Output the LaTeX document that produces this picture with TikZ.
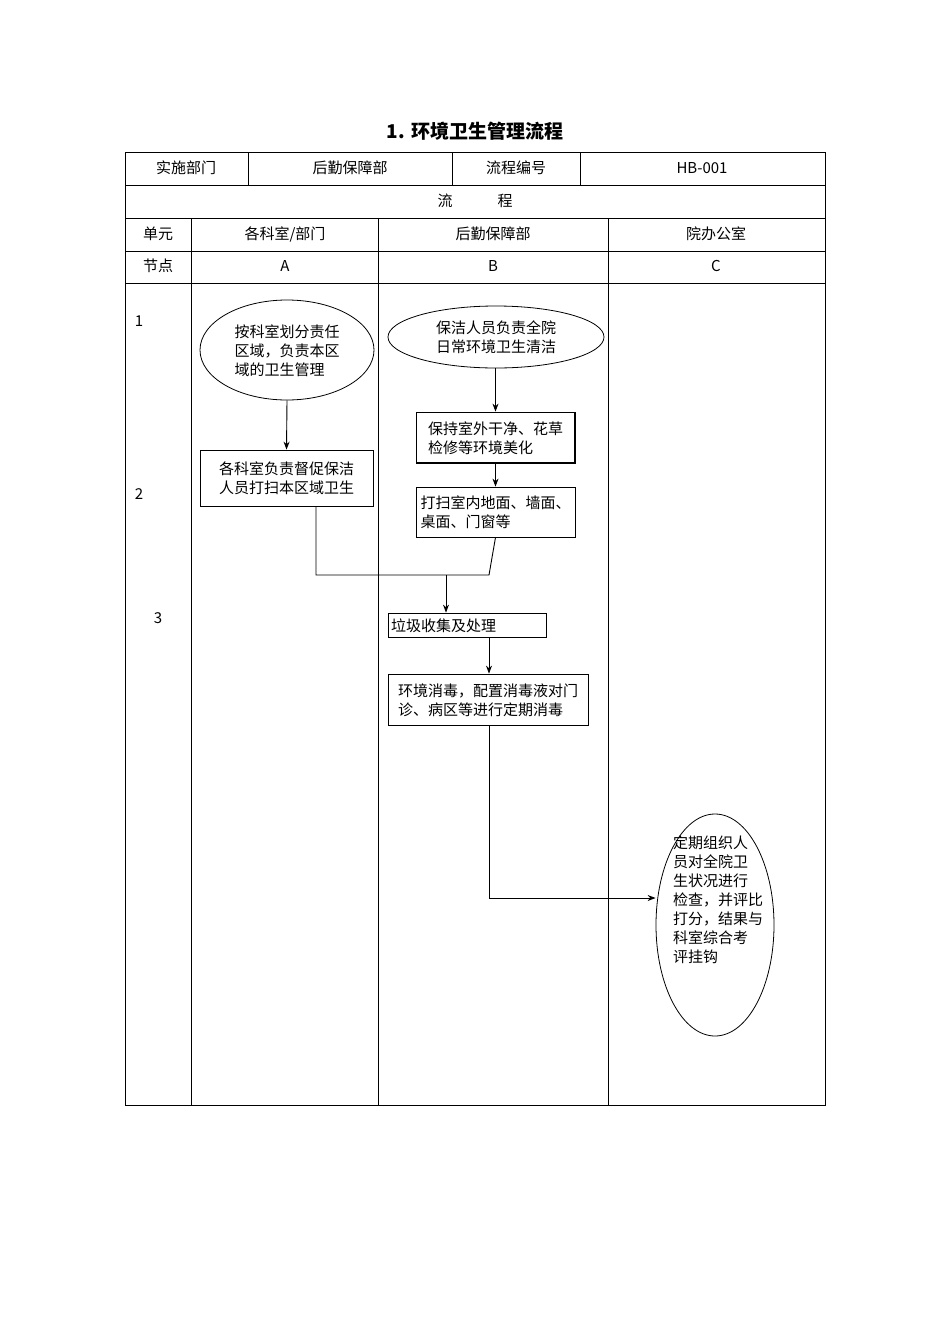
\documentclass[tikz,border=0pt]{standalone}
\usepackage{fontspec}
\setmainfont{Liberation Serif}
\newfontfamily\cjk{Noto Sans CJK SC}
\usetikzlibrary{shapes.geometric,arrows.meta}
\begin{document}
\begin{tikzpicture}[x=1pt,y=-1pt,
  tl/.style={line width=0.8pt},
  txt/.style={font=\cjk\fontsize{15}{19}\selectfont,inner sep=0pt},
  el/.style={draw,line width=0.8pt,ellipse,inner sep=0pt},
  bx/.style={draw,line width=0.8pt,inner sep=0pt},
  ar/.style={line width=0.9pt,-{Stealth[length=8pt,width=6pt]}},
  ln/.style={line width=0.9pt}]
\useasboundingbox (0,0) rectangle (950,1344);
\node[font=\cjk\bfseries\fontsize{19}{22}\selectfont] (title) at (475,131) {\textbf{1.} 环境卫生管理流程};
% table
\draw[tl] (125,152) rectangle (825,1105);
\foreach \y in {185,218,251,283} \draw[tl] (125,\y) -- (825,\y);
\foreach \x in {248,452,580} \draw[tl] (\x,152) -- (\x,185);
\foreach \x in {191,378,608} \draw[tl] (\x,218) -- (\x,1105);
\node[txt] (h1) at (186,168) {实施部门};
\node[txt] (h2) at (350,168) {后勤保障部};
\node[txt] (h3) at (516,168) {流程编号};
\node[txt] (h4) at (702,168) {HB-001};
\node[txt] (lc) at (475,201) {流\hspace{3em}程};
\node[txt] (u0) at (158,234) {单元};
\node[txt] (u1) at (285,234) {各科室/部门};
\node[txt] (u2) at (493,234) {后勤保障部};
\node[txt] (u3) at (716,234) {院办公室};
\node[txt] (n0) at (158,266) {节点};
\node[txt] (n1) at (285,266) {A};
\node[txt] (n2) at (493,266) {B};
\node[txt] (n3) at (716,266) {C};
\node[txt] (s1) at (139,321) {1};
\node[txt] (s2) at (139,494) {2};
\node[txt] (s3) at (158,618) {3};
% nodes
\node[el,minimum width=174,minimum height=100] (ea) at (287,350) {};
\node[txt,align=left] at (287,351) {按科室划分责任\\区域，负责本区\\域的卫生管理};
\node[el,minimum width=216,minimum height=62] (eb) at (496,337) {};
\node[txt,align=left] at (496,337) {保洁人员负责全院\\日常环境卫生清洁};
\node[bx,minimum width=173,minimum height=56] (ba) at (286.5,478) {};
\node[txt,align=left] at (286.5,478) {各科室负责督促保洁\\人员打扫本区域卫生};
\node[bx,minimum width=159,minimum height=51] (bb1) at (495.5,437.5) {};
\draw[line width=2pt] (575,413) -- (575,463) -- (417,463);
\node[txt,align=left] at (495.5,438) {保持室外干净、花草\\检修等环境美化};
\node[bx,minimum width=159,minimum height=50] (bb2) at (495.5,512) {};
\node[txt,align=left] at (495.5,512) {打扫室内地面、墙面、\\桌面、门窗等};
\node[bx,minimum width=158,minimum height=24] (b3) at (467,625) {};
\node[txt,anchor=west] at (391,626) {垃圾收集及处理};
\node[bx,minimum width=200,minimum height=51] (b4) at (488,699.5) {};
\node[txt,align=left] at (488,700) {环境消毒，配置消毒液对门\\诊、病区等进行定期消毒};
\node[el,minimum width=118,minimum height=222] (ec) at (715,925) {};
\node[txt,align=left] at (718,900) {定期组织人\\员对全院卫\\生状况进行\\检查，并评比\\打分，结果与\\科室综合考\\评挂钩};
% connectors
\coordinate (m) at (446,575);
\draw[ar] (ea.south) -- (ba.north);
\draw[ar] (eb.south -| bb1.north) -- (bb1.north);
\draw[ar] (bb1.south) -- (bb2.north);
\draw[ln] (ba.south -| 316,0) -- (316,575) -- (489,575) -- (bb2.south);
\draw[ar] (m) -- (m |- b3.north);
\draw[ar] (b3.south -| 489,0) -- (b4.north -| 489,0);
\draw[ar] (b4.south -| 489,0) -- (489,898) -- (ec.west |- 0,898);
\end{tikzpicture}
\end{document}
